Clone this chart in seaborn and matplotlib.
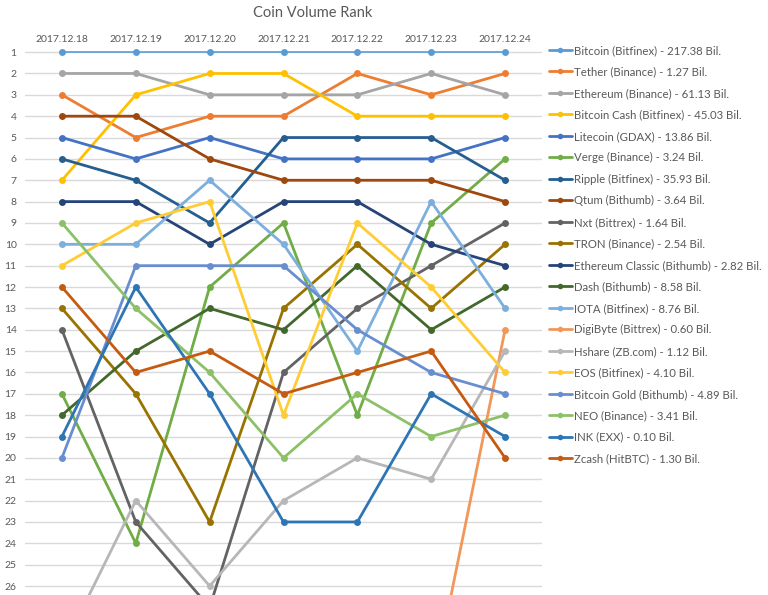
# plot.py
# Coin Volume Rank - bump chart recreated with seaborn

import numpy as np
import pandas as pd
import seaborn as sns
import matplotlib.pyplot as plt

# ----- data -----
dates = ["2017.12.18", "2017.12.19", "2017.12.20", "2017.12.21",
         "2017.12.22", "2017.12.23", "2017.12.24"]

coins = [
    "Bitcoin (Bitfinex) - 217.38 Bil.",
    "Tether (Binance) - 1.27 Bil.",
    "Ethereum (Binance) - 61.13 Bil.",
    "Bitcoin Cash (Bitfinex) - 45.03 Bil.",
    "Litecoin (GDAX) - 13.86 Bil.",
    "Verge (Binance) - 3.24 Bil.",
    "Ripple (Bitfinex) - 35.93 Bil.",
    "Qtum (Bithumb) - 3.64 Bil.",
    "Nxt (Bittrex) - 1.64 Bil.",
    "TRON (Binance) - 2.54 Bil.",
    "Ethereum Classic (Bithumb) - 2.82 Bil.",
    "Dash (Bithumb) - 8.58 Bil.",
    "IOTA (Bitfinex) - 8.76 Bil.",
    "DigiByte (Bittrex) - 0.60 Bil.",
    "Hshare (ZB.com) - 1.12 Bil.",
    "EOS (Bitfinex) - 4.10 Bil.",
    "Bitcoin Gold (Bithumb) - 4.89 Bil.",
    "NEO (Binance) - 3.41 Bil.",
    "INK (EXX) - 0.10 Bil.",
    "Zcash (HitBTC) - 1.30 Bil.",
]

nan = np.nan
ranks = [
    [1, 1, 1, 1, 1, 1, 1],
    [3, 5, 4, 4, 2, 3, 2],
    [2, 2, 3, 3, 3, 2, 3],
    [7, 3, 2, 2, 4, 4, 4],
    [5, 6, 5, 6, 6, 6, 5],
    [17, 24, 12, 9, 18, 9, 6],
    [6, 7, 9, 5, 5, 5, 7],
    [4, 4, 6, 7, 7, 7, 8],
    [14, 23, 27, 16, 13, 11, 9],
    [13, 17, 23, 13, 10, 13, 10],
    [8, 8, 10, 8, 8, 10, 11],
    [18, 15, 13, 14, 11, 14, 12],
    [10, 10, 7, 10, 15, 8, 13],
    [nan, nan, nan, nan, nan, 31, 14],   # below the visible area before 12.24
    [29, 22, 26, 22, 20, 21, 15],
    [11, 9, 8, 18, 9, 12, 16],
    [20, 11, 11, 11, 14, 16, 17],
    [9, 13, 16, 20, 17, 19, 18],
    [19, 12, 17, 23, 23, 17, 19],
    [12, 16, 15, 17, 16, 15, 20],
]

colors = ["#5B9BD5", "#ED7D31", "#A5A5A5", "#FFC000", "#4472C4", "#70AD47",
          "#255E91", "#9E480E", "#636363", "#997300", "#264478", "#43682B",
          "#7CAFDD", "#F1975A", "#B7B7B7", "#FFCD33", "#698ED0", "#8CC168",
          "#2E75B6", "#C55A11"]

rows = []
for coin, r in zip(coins, ranks):
    for i, v in enumerate(r):
        rows.append({"day": i, "coin": coin, "rank": v})
df = pd.DataFrame(rows).dropna()

# ----- styling -----
sns.set_style("white")
plt.rcParams["font.family"] = ["Lato", "DejaVu Sans"]
text_col = "#595959"

fig = plt.figure(figsize=(7.68, 5.95), dpi=100)
ax = fig.add_axes([25 / 768, 0, 517 / 768, 551 / 595])

sns.lineplot(data=df, x="day", y="rank", hue="coin", hue_order=coins,
             palette=dict(zip(coins, colors)), marker="o", markersize=5,
             markeredgewidth=0, linewidth=2.0, sort=False, ax=ax)

# Bitcoin series drawn thinner
ax.lines[0].set_linewidth(1.2)

ax.set_xlim(-0.5, 6.5)
ax.set_ylim(26.42, 0.62)
ax.set_yticks(range(1, 27))
ax.set_xticks(range(len(dates)))
ax.set_xticklabels(dates)
ax.xaxis.tick_top()
ax.tick_params(axis="x", length=0, pad=0, labelsize=7.5, colors=text_col)
ax.tick_params(axis="y", length=0, pad=6, labelsize=7.5, colors=text_col)
ax.set_xlabel("")
ax.set_ylabel("")
ax.grid(axis="y", color="#D9D9D9", linewidth=1)
ax.set_axisbelow(True)
sns.despine(ax=ax, left=True, bottom=True, top=True, right=True)

fig.text(313 / 768, 1 - 13 / 595, "Coin Volume Rank", ha="center", va="center",
         fontsize=10.5, color=text_col)

handles, labels = ax.get_legend_handles_labels()
for h in handles:
    h.set_linewidth(2.0)
    h.set_marker("o")
    h.set_markersize(4)
leg = ax.legend(handles, labels, loc="upper left",
                bbox_to_anchor=(549 / 768, 1 - 45 / 595),
                bbox_transform=fig.transFigure, frameon=False,
                fontsize=8.2, handlelength=2.0, handletextpad=0.2,
                labelspacing=0.92, borderpad=0, borderaxespad=0)
for t in leg.get_texts():
    t.set_color(text_col)

fig.savefig("out.png", dpi=100)
